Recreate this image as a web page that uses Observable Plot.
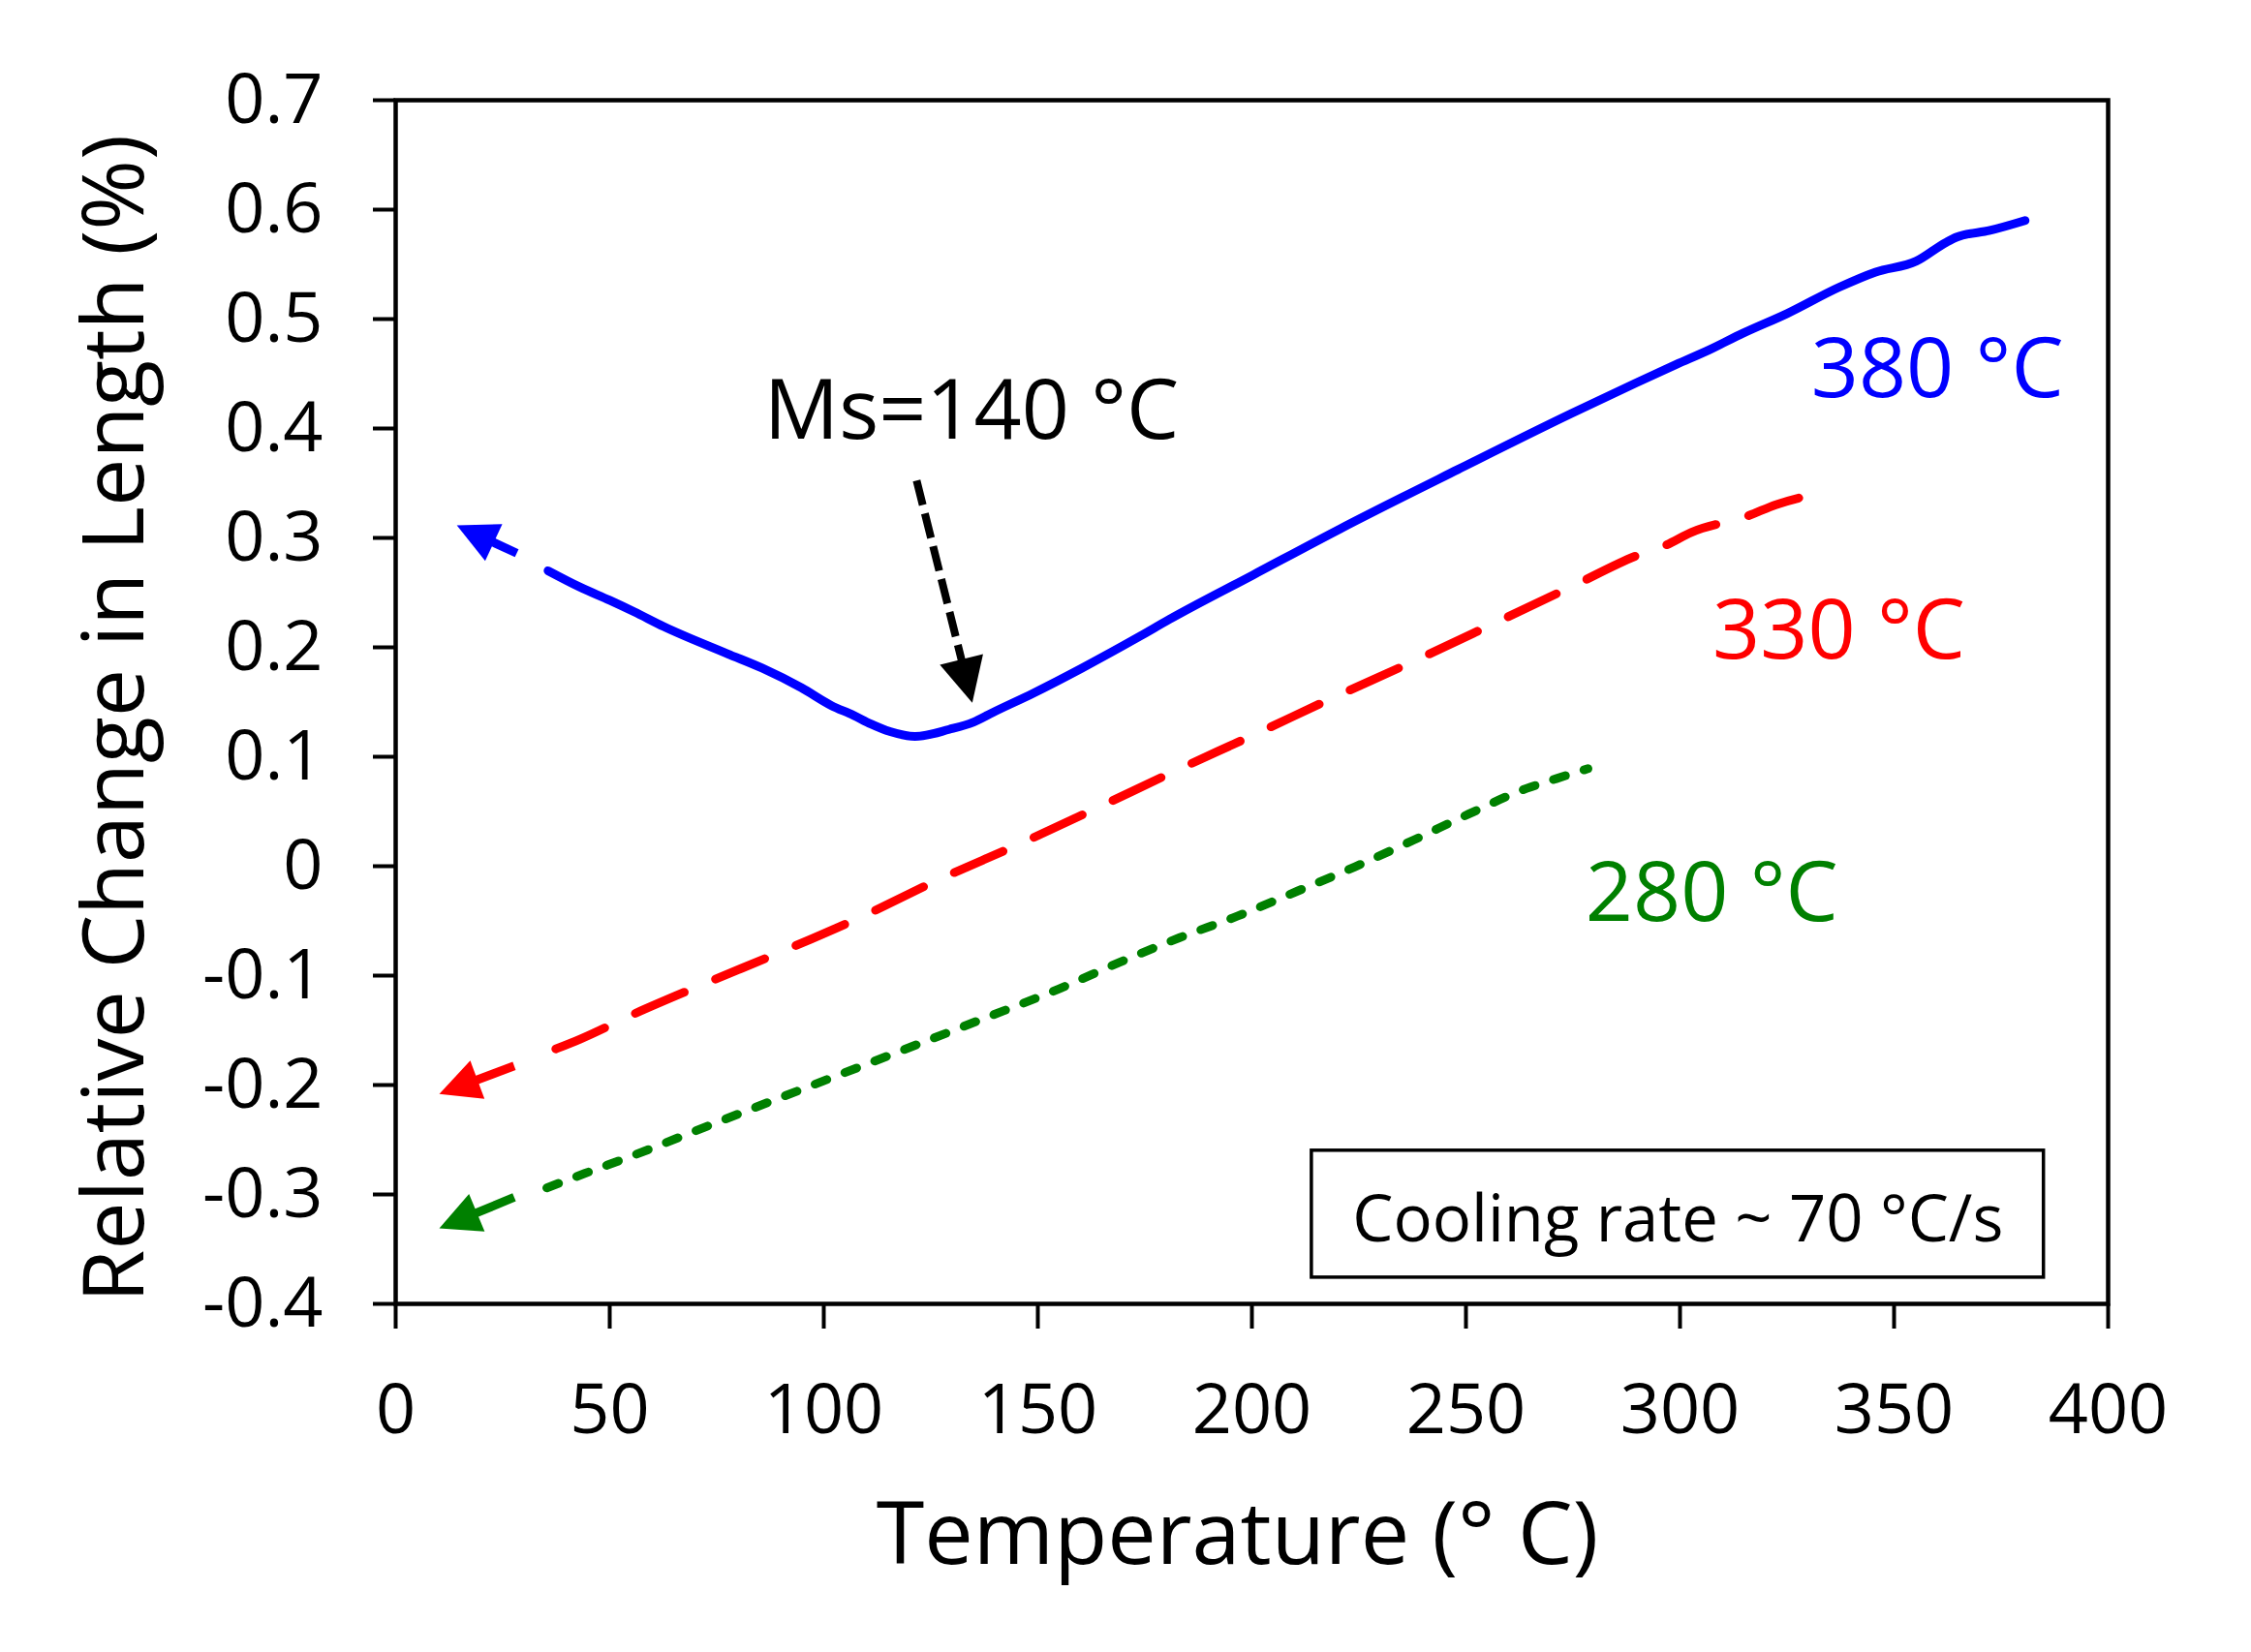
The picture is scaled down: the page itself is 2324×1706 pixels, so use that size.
<!DOCTYPE html>
<html>
<head>
<meta charset="utf-8">
<script src="https://cdn.jsdelivr.net/npm/d3@7"></script>
<script src="https://cdn.jsdelivr.net/npm/@observablehq/plot@0.6"></script>
<style>
  body { margin: 0; background: white; }
</style>
</head>
<body>
<div id="chart"></div>
<script>
// relative change in length (%) against temperature (°C)
const t380 = [35.6, 43.1, 50, 55.7, 62.6, 77.6, 85.6, 94.8, 101.7, 106.9, 111, 115.5, 121.3, 129.3, 134.9, 139.5, 148.9, 160.3, 173.8, 180.7, 200.2, 220.7, 248.1, 274.5, 289.7, 299.1, 306.9, 314.7, 325, 337.1, 345.7, 355.2, 362.1, 364.7, 372.4, 380.6]
const d380 = [0.270, 0.255, 0.243, 0.2325, 0.219, 0.194, 0.181, 0.163, 0.147, 0.138, 0.130, 0.123, 0.1186, 0.125, 0.1315, 0.1405, 0.158, 0.181, 0.210, 0.2255, 0.266, 0.3085, 0.3625, 0.4135, 0.4416, 0.4585, 0.472, 0.487, 0.505, 0.529, 0.543, 0.553, 0.570, 0.575, 0.581, 0.590]

const t330 = [37.4, 43.1, 55.7, 72.4, 90.2, 108.6, 127, 145.3, 163.6, 181.8, 200.7, 219, 237.9, 256.2, 275, 290, 296.6, 302.6, 316, 322.4, 331]
const d330 = [-0.167, -0.158, -0.135, -0.107, -0.078, -0.0466, -0.012, 0.0196, 0.0528, 0.0865, 0.1205, 0.154, 0.1875, 0.2212, 0.2561, 0.284, 0.2932, 0.305, 0.3203, 0.3304, 0.3395]

const t280 = [35.3, 44.3, 55.7, 74.1, 94.8, 115.5, 136.2, 155, 169.3, 183, 196.7, 210.5, 224.1, 237.9, 250.5, 264.2, 271.1, 278.5]
const d280 = [-0.294, -0.2806, -0.264, -0.2356, -0.204, -0.1726, -0.141, -0.112, -0.0875, -0.0655, -0.0455, -0.023, -0.0005, 0.0241, 0.0474, 0.0711, 0.080, 0.0891]

// extrapolation arrows (tail -> tip) and the Ms marker
const arrowFrom = [[28.4, 0.2856], [27.8, -0.183], [27.8, -0.303]]
const arrowTo = [[14.4, 0.311], [10.3, -0.2086], [10.3, -0.3315]]
const msFrom = [121.8, 0.352]
const msTo = [134.8, 0.149]

const xTicks = [0, 50, 100, 150, 200, 250, 300, 350, 400]
const yTicks = [-0.4, -0.3, -0.2, -0.1, 0, 0.1, 0.2, 0.3, 0.4, 0.5, 0.6, 0.7]

const labels = ['Ms=140 °C', '380 °C', '330 °C', '280 °C']
const labelX = [134.5, 360.1, 337.1, 307.4]
const labelY = [0.391, 0.4288, 0.1898, -0.050]
const noteText = 'Cooling rate ~ 70 °C/s'

const colors = ['blue', 'red', 'green']
const rows = (xs, ys) => xs.map((x, i) => ({x, y: ys[i]}))

// arrow drawn through the plot scales, with a filled head
function arrows(from, to, {color, width = 7, head = 30, dash = null}) {
  return (index, scales) => {
    const g = d3.create('svg:g')
    from.forEach((a, i) => {
      const b = to[i]
      const c = Array.isArray(color) ? color[i] : color
      const x1 = scales.x(a[0]), y1 = scales.y(a[1])
      const x2 = scales.x(b[0]), y2 = scales.y(b[1])
      const len = Math.hypot(x2 - x1, y2 - y1)
      const ux = (x2 - x1) / len, uy = (y2 - y1) / len
      const bx = x2 - ux * head, by = y2 - uy * head
      g.append('line')
        .attr('x1', x1).attr('y1', y1)
        .attr('x2', bx + ux * 2).attr('y2', by + uy * 2)
        .attr('stroke', c)
        .attr('stroke-width', width)
        .attr('stroke-dasharray', dash)
      const h = head * 0.5
      g.append('path')
        .attr('d', `M${x2},${y2}L${bx - uy * h},${by + ux * h}L${bx + uy * h},${by - ux * h}Z`)
        .attr('fill', c)
    })
    return g.node()
  }
}

const fmtY = d => d === 0 ? '0' : d.toFixed(1)

let chart = Plot.plot({
  width: 2324,
  height: 1706,
  marginLeft: 408,
  marginRight: 148,
  marginTop: 103,
  marginBottom: 360,
  x: {domain: [0, 400]},
  y: {domain: [-0.4, 0.7]},
  style: {fontFamily: '"Open Sans", sans-serif', background: 'white', color: 'black'},
  marks: [
    Plot.line(rows(t380, d380), {
      x: 'x', y: 'y', stroke: colors[0], strokeWidth: 9,
      strokeLinecap: 'round', strokeLinejoin: 'round', curve: 'monotone-x'
    }),
    Plot.line(rows(t330, d330), {
      x: 'x', y: 'y', stroke: colors[1], strokeWidth: 9, strokeDasharray: '55 35',
      strokeLinecap: 'round', strokeLinejoin: 'round', curve: 'monotone-x'
    }),
    Plot.line(rows(t280, d280), {
      x: 'x', y: 'y', stroke: colors[2], strokeWidth: 9, strokeDasharray: '13 20',
      strokeLinecap: 'round', strokeLinejoin: 'round', curve: 'monotone-x'
    }),
    arrows(arrowFrom, arrowTo, {color: colors, width: 9, head: 42}),
    arrows([msFrom], [msTo], {color: 'black', width: 8, head: 46, dash: '26 9'}),
    Plot.text(labels, {
      x: (d, i) => labelX[i],
      y: (d, i) => labelY[i],
      text: d => d,
      fill: (d, i) => ['black', ...colors][i],
      fontSize: 86,
      textAnchor: 'middle',
      lineAnchor: 'bottom'
    }),
    Plot.rect([noteText], {
      x1: 214, x2: 385, y1: -0.260, y2: -0.376,
      fill: 'white', stroke: 'black', strokeWidth: 3.5
    }),
    Plot.text([noteText], {
      x: 299.5, y: -0.343, text: d => d,
      fontSize: 67, textAnchor: 'middle', lineAnchor: 'bottom'
    }),
    Plot.frame({stroke: 'black', strokeWidth: 4.5}),
    Plot.axisX({
      ticks: xTicks,
      tickSize: 26,
      tickPadding: 56,
      strokeWidth: 4,
      fontSize: 72,
      tickFormat: d => String(d),
      label: null
    }),
    Plot.axisY({
      ticks: yTicks,
      tickSize: 23,
      tickPadding: 52,
      strokeWidth: 4,
      fontSize: 72,
      tickFormat: fmtY,
      label: null
    }),
    Plot.text(['Temperature (° C)'], {
      frameAnchor: 'bottom', dy: 268, dx: -15,
      text: d => d, fontSize: 90, textAnchor: 'middle', lineAnchor: 'bottom'
    }),
    Plot.text(['Relative Change in Length (%)'], {
      frameAnchor: 'left', dx: -289, dy: 17, rotate: -90,
      text: d => d, fontSize: 88, textAnchor: 'middle', lineAnchor: 'middle'
    })
  ]
})

d3.select('#chart').append(() => chart)
</script>
</body>
</html>
